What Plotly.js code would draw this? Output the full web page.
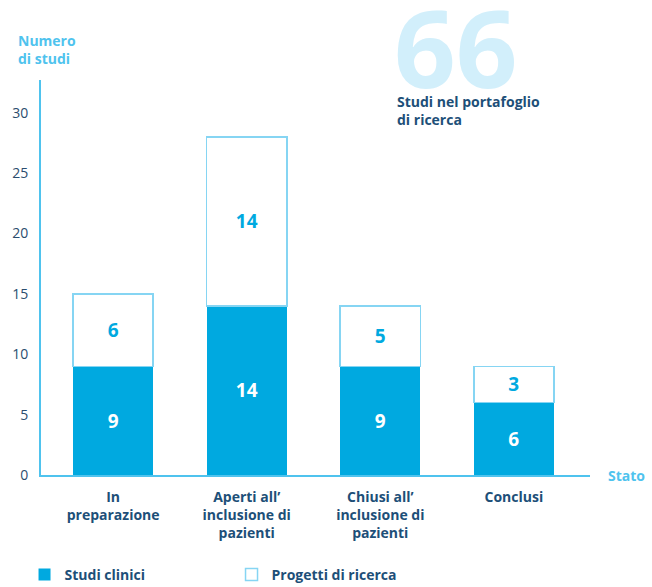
<!DOCTYPE html>
<html><head><meta charset="utf-8">
<script src="https://cdn.plot.ly/plotly-3.0.1.min.js"></script>
<style>html,body{margin:0;padding:0;background:#fff}#c{width:652px;height:587px}</style>
</head><body><div id="c"></div>
<script>
const categories = ["In<br>preparazione", "Aperti all’<br>inclusione di<br>pazienti", "Chiusi all’<br>inclusione di<br>pazienti", "Conclusi"];
const studiClinici = [9, 14, 9, 6];
const progettiRicerca = [6, 14, 5, 3];
const yTicks = [0, 5, 10, 15, 20, 25, 30];
const totale = 66;

const F = "'Open Sans', 'Noto Sans', sans-serif";
const blue = "#00a9e0";
const light = "#4fc3ee";
const dark = "#1d4f78";

const x = categories.map((c, i) => i);
const data = [
  {type:"bar", name:"Studi clinici", x:x, y:studiClinici, width:0.6,
   marker:{color:blue, line:{color:blue, width:0}},
   text:studiClinici.map(String), textposition:"inside", insidetextanchor:"middle",
   textfont:{family:F, size:19, color:"#ffffff", weight:700}, hoverinfo:"none"},
  {type:"bar", name:"Progetti di ricerca", x:x, y:progettiRicerca, width:0.6,
   marker:{color:"#ffffff", line:{color:"#86d5f3", width:1.5}},
   text:progettiRicerca.map(String), textposition:"inside", insidetextanchor:"middle",
   textfont:{family:F, size:19, color:blue, weight:700}, hoverinfo:"none"}
];
const layout = {
  width:652, height:587, paper_bgcolor:"#fff", plot_bgcolor:"#fff",
  margin:{l:41, r:62, t:80, b:112, autoexpand:false},
  barmode:"stack", showlegend:true,
  font:{family:F},
  xaxis:{range:[-0.54, 3.57], tickvals:x, ticktext:categories, showgrid:false, zeroline:false,
         showline:true, linecolor:light, linewidth:2, ticks:"", ticklabelstandoff:8,
         tickfont:{family:F, size:14, color:dark, weight:700}, fixedrange:true},
  yaxis:{range:[0, 32.7], tickvals:yTicks, showgrid:false, zeroline:false,
         showline:true, linecolor:light, linewidth:2, ticks:"", ticklabelstandoff:8,
         tickfont:{family:F, size:14, color:"#2b4d6e"}, fixedrange:true},
  legend:{orientation:"h", x:-0.03, xanchor:"left", y:-0.253, yanchor:"middle",
          entrywidth:162, entrywidthmode:"pixels",
          font:{family:F, size:14, color:dark, weight:700}, traceorder:"normal"},
  annotations:[
    {xref:"paper", yref:"paper", x:-0.045, y:1.13, xanchor:"left", yanchor:"top", align:"left",
     text:"Numero<br>di studi", showarrow:false, font:{family:F, size:14, color:light, weight:700}},
    {xref:"paper", yref:"paper", x:1.03, y:0, xanchor:"left", yanchor:"middle",
     text:"Stato", showarrow:false, font:{family:F, size:14, color:light, weight:700}},
    {xref:"paper", yref:"paper", x:0.64, y:1.277, xanchor:"left", yanchor:"top",
     text:String(totale), showarrow:false, font:{family:F, size:108, color:"#d2effb", weight:700}},
    {xref:"paper", yref:"paper", x:0.645, y:0.975, xanchor:"left", yanchor:"top", align:"left",
     text:"Studi nel portafoglio<br>di ricerca", showarrow:false, font:{family:F, size:14, color:dark, weight:700}}
  ]
};
Plotly.newPlot("c", data, layout, {displayModeBar:false, staticPlot:true});
</script></body></html>
